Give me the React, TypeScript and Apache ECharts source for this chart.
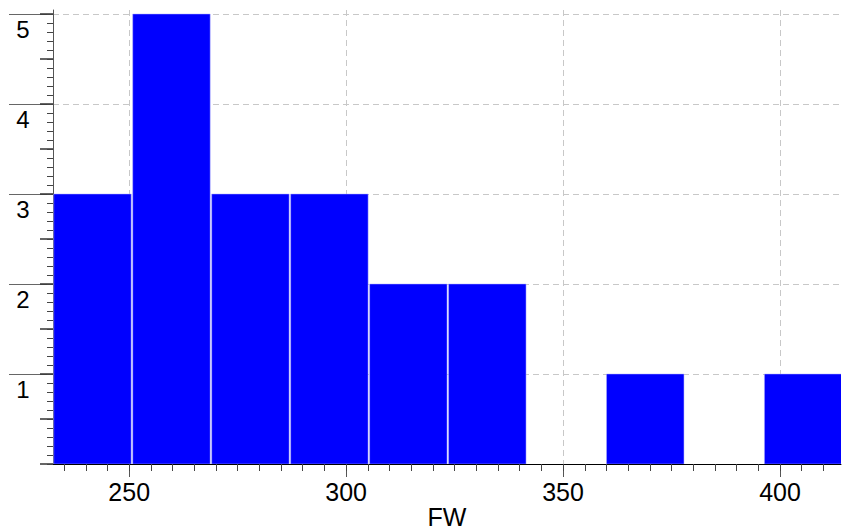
import React, { useEffect, useRef } from "react";
import * as echarts from "echarts";

// Histogram data (bin edges on FW, counts per bin)
const binEdges = [232.44, 250.64, 268.84, 287.04, 305.24, 323.44, 341.64, 359.84, 378.04, 396.24, 414.44];
const counts = [3, 5, 3, 3, 2, 2, 0, 1, 0, 1];

// Axis ticks / labels
const xMajorTicks = [250, 300, 350, 400];
const yLabelValues = [1, 2, 3, 4, 5];
const xMin = 232.44;
const xMax = 414.06;
const yMin = 0;
const yMax = 5.0444;

const xMinorTicks: number[] = [];
for (let v = 235; v <= 410; v += 5) xMinorTicks.push(v);
const yHalfTicks: number[] = [];
for (let k = 0; k <= 10; k++) yHalfTicks.push(k / 2);
const yMinorTicks: number[] = [];
for (let k = 0; k <= 50; k++) yMinorTicks.push(k / 10);

const FONT = "'Liberation Sans', Arial, Helvetica, sans-serif";

export default function App() {
  const ref = useRef<HTMLDivElement>(null);
  useEffect(() => {
    document.body.style.margin = "0";
    if (!ref.current) return;
    const chart = echarts.init(ref.current, undefined, { renderer: "svg" });
    const seriesData = counts.map((c, i) => [binEdges[i], binEdges[i + 1], c]);
    const gridLine = { show: true, lineStyle: { color: "#c8c8c8", width: 1, type: [6, 4] as any } };
    chart.setOption({
      animation: false,
      backgroundColor: "#ffffff",
      grid: { left: 53, right: 1, top: 10, bottom: 66, containLabel: false, outerBoundsMode: "none" },
      xAxis: [
        {
          type: "value",
          min: xMin,
          max: xMax,
          position: "bottom",
          axisLine: { show: true, onZero: false, lineStyle: { color: "#000", width: 1 } },
          axisTick: { show: true, customValues: xMajorTicks, length: 13, lineStyle: { color: "#555", width: 1 } },
          axisLabel: {
            show: true,
            customValues: xMajorTicks,
            margin: 15,
            fontSize: 25,
            color: "#000",
            fontFamily: FONT,
          },
          splitLine: gridLine,
          name: "FW",
          nameLocation: "middle",
          nameGap: 40,
          nameMoveOverlap: false,
          nameTextStyle: { fontSize: 25, lineHeight: 25, color: "#000", fontFamily: FONT },
        },
        {
          type: "value",
          min: xMin,
          max: xMax,
          position: "bottom",
          offset: 0,
          axisLine: { show: false, onZero: false },
          axisTick: { show: true, customValues: xMinorTicks, length: 7, lineStyle: { color: "#444", width: 1 } },
          axisLabel: { show: false },
          splitLine: { show: false },
        },
      ],
      yAxis: [
        {
          type: "value",
          min: yMin,
          max: yMax,
          position: "left",
          axisLine: { show: true, onZero: false, lineStyle: { color: "#555", width: 1 } },
          axisTick: { show: true, customValues: yLabelValues, length: 44, lineStyle: { color: "#666", width: 1 } },
          axisLabel: {
            show: true,
            customValues: yLabelValues,
            margin: 30,
            align: "center",
            verticalAlign: "top",
            padding: [4, 0, 0, 0],
            fontSize: 24,
            lineHeight: 24,
            color: "#000",
            fontFamily: FONT,
          },
          splitLine: { ...gridLine },
        },
        {
          type: "value",
          min: yMin,
          max: yMax,
          position: "left",
          offset: 0,
          axisLine: { show: false, onZero: false },
          axisTick: { show: true, customValues: yHalfTicks, length: 13, lineStyle: { color: "#333", width: 1.5 } },
          axisLabel: { show: false },
          splitLine: { show: false },
        },
        {
          type: "value",
          min: yMin,
          max: yMax,
          position: "left",
          offset: 0,
          axisLine: { show: false, onZero: false },
          axisTick: { show: true, customValues: yMinorTicks, length: 6, lineStyle: { color: "#444", width: 1 } },
          axisLabel: { show: false },
          splitLine: { show: false },
        },
      ],
      series: [
        {
          type: "custom",
          xAxisIndex: 0,
          yAxisIndex: 0,
          clip: true,
          data: seriesData,
          encode: { x: [0, 1], y: 2 },
          renderItem: (params: any, api: any) => {
            const x0 = api.value(0);
            const x1 = api.value(1);
            const c = api.value(2);
            if (!c) return null;
            const p0 = api.coord([x0, c]);
            const p1 = api.coord([x1, 0]);
            return {
              type: "rect",
              shape: {
                x: p0[0] + 0.75,
                y: p0[1],
                width: p1[0] - p0[0] - 1.5,
                height: p1[1] - p0[1],
              },
              style: { fill: "#0000ff", stroke: "#b0b0ff", lineWidth: 0.5 },
            };
          },
        },
      ],
    });
    return () => chart.dispose();
  }, []);
  return <div ref={ref} style={{ width: 842, height: 530, position: "absolute", left: 0, top: 0 }} />;
}
